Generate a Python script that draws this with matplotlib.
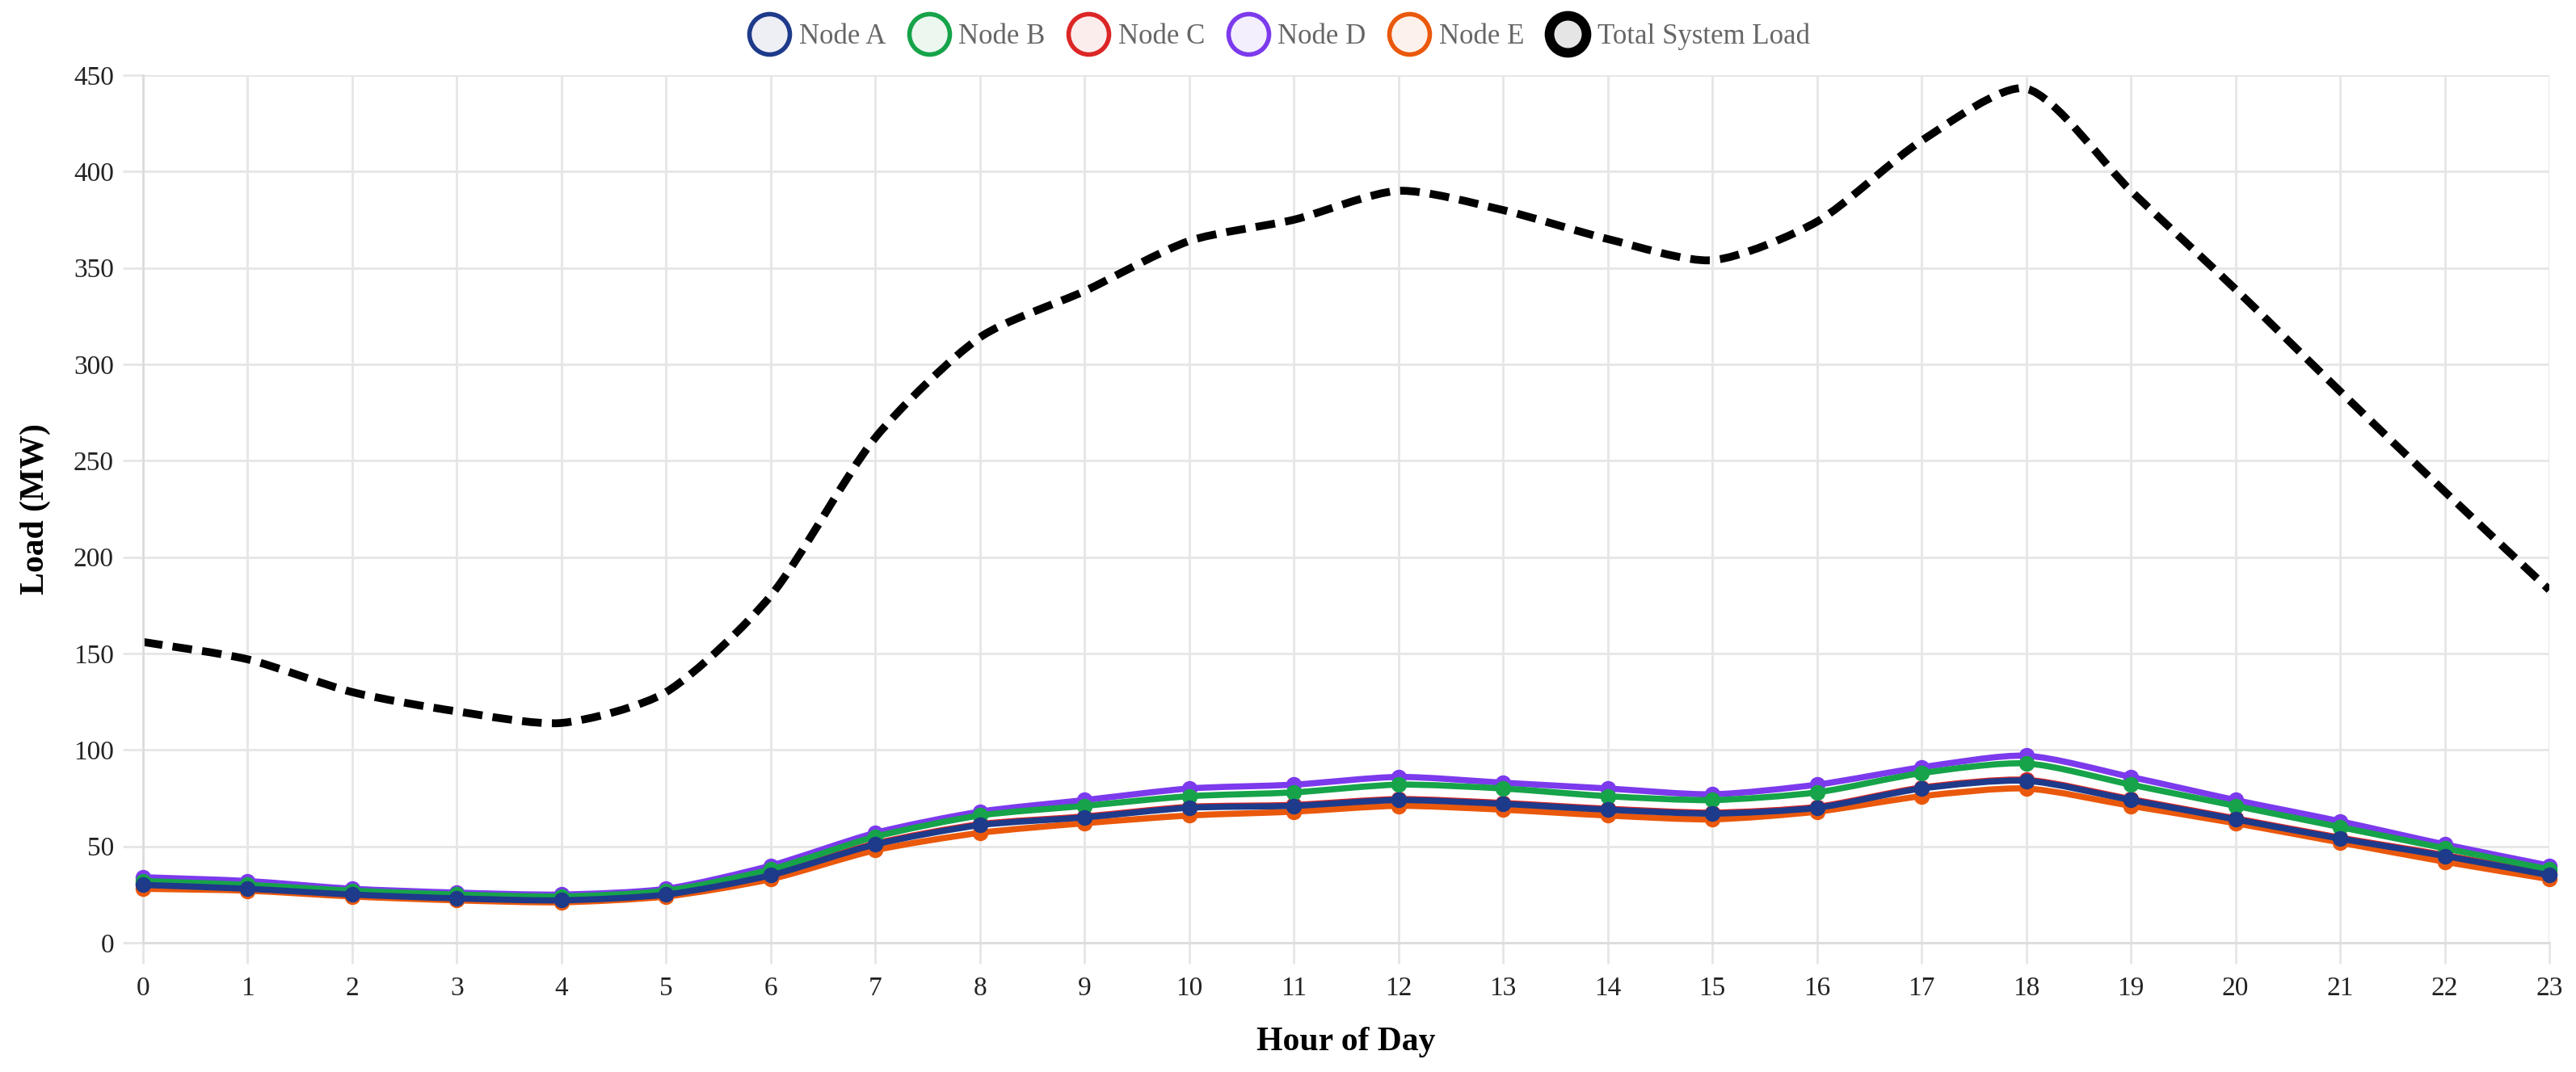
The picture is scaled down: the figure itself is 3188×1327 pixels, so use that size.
import matplotlib
matplotlib.use('Agg')
import matplotlib.pyplot as plt
from matplotlib.path import Path
from matplotlib.patches import PathPatch
from matplotlib.lines import Line2D
import numpy as np

plt.rcParams['font.family'] = ['Liberation Serif', 'DejaVu Serif']

# Daten (odčítané z grafu)
hours = list(range(24))
node_a = [30, 28, 25, 23, 22, 25, 35, 51, 61, 65, 70, 71, 74, 72, 69, 67, 70, 80, 84, 74, 64, 54, 45, 35]
node_b = [32, 30, 27, 25, 24, 27, 38, 55, 66, 71, 76, 78, 82, 80, 76, 74, 78, 88, 93, 82, 71, 60, 49, 38]
node_c = [30.5, 28.5, 25.5, 23.5, 22.5, 25.5, 35.5, 51.5, 61.5, 65.5, 70.5, 71.5, 74.5, 72.5, 69.5, 67.5, 70.5, 80.5, 84.5, 74.5, 64.5, 54.5, 45.5, 35.5]
node_d = [34, 32, 28, 26, 25, 28, 40, 57, 68, 74, 80, 82, 86, 83, 80, 77, 82, 91, 97, 86, 74, 63, 51, 40]
node_e = [28, 27, 24, 22, 21, 24, 33, 48, 57, 62, 66, 68, 71, 69, 66, 64, 68, 76, 80, 71, 62, 52, 42, 33]
total = [156, 147, 130, 120, 114, 130, 180, 262, 314, 338, 364, 375, 390, 380, 365, 354, 374, 416, 443, 390, 339, 286, 234, 183]

names = ['Node A', 'Node B', 'Node C', 'Node D', 'Node E']
series = [node_a, node_b, node_c, node_d, node_e]
colors = ['#1e3a8a', '#16a34a', '#dc2626', '#7c3aed', '#ea580c']

W, H = 3188, 1327
fig = plt.figure(figsize=(W / 100, H / 100), dpi=100)
L, R, T, B = 177, 3155, 93, 1167
ax = fig.add_axes([L / W, 1 - B / H, (R - L) / W, (B - T) / H])
ax.set_xlim(0, 23)
ax.set_ylim(0, 450)

# pixel scales for the spline (ako v Chart.js)
sx = (R - L) / 23
sy = (B - T) / 450


def smooth_path(xs, ys, t=0.25):
    px = np.array(xs, float) * sx
    py = np.array(ys, float) * sy
    n = len(px)
    cp_prev = []
    cp_next = []
    for i in range(n):
        p0 = (px[max(i - 1, 0)], py[max(i - 1, 0)])
        p1 = (px[i], py[i])
        p2 = (px[min(i + 1, n - 1)], py[min(i + 1, n - 1)])
        d01 = np.hypot(p1[0] - p0[0], p1[1] - p0[1])
        d12 = np.hypot(p2[0] - p1[0], p2[1] - p1[1])
        s = d01 + d12
        s01 = d01 / s if s else 0
        s12 = d12 / s if s else 0
        fa, fb = t * s01, t * s12
        cp_prev.append((p1[0] - fa * (p2[0] - p0[0]), p1[1] - fa * (p2[1] - p0[1])))
        cp_next.append((p1[0] + fb * (p2[0] - p0[0]), p1[1] + fb * (p2[1] - p0[1])))
    verts = [(px[0], py[0])]
    codes = [Path.MOVETO]
    for i in range(n - 1):
        verts += [cp_next[i], cp_prev[i + 1], (px[i + 1], py[i + 1])]
        codes += [Path.CURVE4] * 3
    verts = [(vx / sx, vy / sy) for vx, vy in verts]
    return Path(verts, codes)


# mriežka
ax.set_xticks(hours)
ax.set_yticks(range(0, 451, 50))
ax.grid(True, color='#e6e6e6', linewidth=2)
ax.set_axisbelow(True)
for s in ['top', 'right']:
    ax.spines[s].set_visible(False)
for s in ['left', 'bottom']:
    ax.spines[s].set_color('#dcdcdc')
    ax.spines[s].set_linewidth(2)
ax.tick_params(axis='both', width=2, color='#e6e6e6', labelsize=24, labelcolor='#222')
ax.tick_params(axis='x', pad=11, length=19)
ax.tick_params(axis='y', pad=8, length=18)

# celkové zaťaženie (dole)
ax.add_patch(PathPatch(smooth_path(hours, total), fill=False, edgecolor='black',
                       linewidth=7, linestyle=(0, (2.5, 1.3)), capstyle='butt', zorder=2))

# uzly - Node A navrchu
for k in range(len(series) - 1, -1, -1):
    z = 3 + (len(series) - k) * 2
    ax.add_patch(PathPatch(smooth_path(hours, series[k]), fill=False, edgecolor=colors[k],
                           linewidth=5.5, zorder=z))
    ax.plot(hours, series[k], ls='none', marker='o', ms=12.5, mfc=colors[k], mec=colors[k],
            mew=1.5, zorder=z + 1, clip_on=False)

ax.set_xlabel('Hour of Day', fontsize=30, fontweight='bold', labelpad=23)
ax.set_ylabel('Load (MW)', fontsize=30, fontweight='bold', labelpad=20)

# legenda
handles = []
for name, c in zip(names, colors):
    handles.append(Line2D([], [], ls='none', marker='o', ms=36, mew=4,
                          mec=c, mfc=matplotlib.colors.to_rgba(c, 0.08), label=name))
handles.append(Line2D([], [], ls='none', marker='o', ms=33, mew=8.5,
                      mec='black', mfc=(0, 0, 0, 0.1), label='Total System Load'))
leg = fig.legend(handles=handles, loc='center', bbox_to_anchor=(1582 / W, 1 - 45 / H), ncol=6,
                 frameon=False, fontsize=25, handletextpad=0.25, columnspacing=0.75,
                 handlelength=1.6, borderaxespad=0)
for txt in leg.get_texts():
    txt.set_color('#666')

fig.savefig('out.png', dpi=100)
